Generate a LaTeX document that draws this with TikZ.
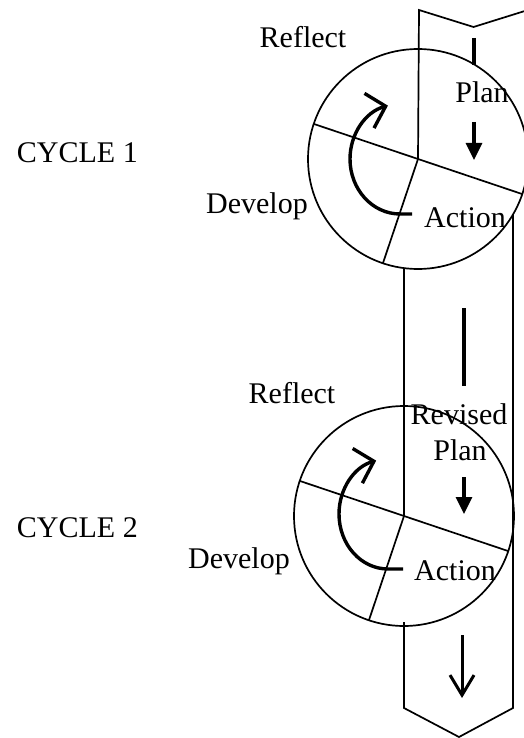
\documentclass[tikz,border=0pt]{standalone}
\usepackage{fontspec}
\setmainfont{Liberation Serif}
\usetikzlibrary{arrows.meta}
\begin{document}
\begin{tikzpicture}[x=1pt,y=-1pt,
  outline/.style={line width=1.7pt, line join=miter},
  flowbar/.style={line width=3.4pt},
  flowarrow/.style={line width=3.2pt, -{Triangle[length=17pt,width=16pt]}},
  cyclearrow/.style={line width=3.4pt, -{Straight Barb[length=17pt,width=36pt]}},
  exitarrow/.style={line width=3pt, -{Straight Barb[length=20pt,width=24pt]}},
  lbl/.style={inner sep=0pt, anchor=base, font=\fontsize{30}{36}\selectfont}]
\useasboundingbox (0,0) rectangle (524,738);
\clip (0,0) rectangle (524,738);

% wheel centres
\coordinate (c1) at (418,159);
\coordinate (c2) at (404,516);

% upper banner with notched top
\draw[outline] (c1) -- (419,10) -- (473.5,27) -- (528,10) -- (528,210);
% lower column ending in a chevron
\draw[outline] (404,268) -- (c2);
\draw[outline] (404,622) -- (404,708) -- (459,737) -- (513,708) -- (513,214);

% cycle 1 wheel
\draw[outline] (c1) circle[radius=110];
\draw[outline] (c1) ++(198.6:110) -- ++(18.6:220);
\draw[outline] (c1) -- ++(108.6:110);
% cycle 2 wheel
\draw[outline] (c2) circle[radius=110];
\draw[outline] (c2) ++(198.6:110) -- ++(18.6:220);
\draw[outline] (c2) -- ++(108.6:110);

% turning arrows inside the wheels
\draw[cyclearrow] (412,214) -- (400,214) arc[start angle=90, end angle=256, x radius=50, y radius=55];
\draw[cyclearrow] (403,569) -- (388,569) arc[start angle=90, end angle=256, x radius=49, y radius=55];

% flow marks down the column
\coordinate (b1a) at (474,38);  \coordinate (b1b) at (474,65);
\coordinate (a1a) at (474,122); \coordinate (a1b) at (474,160);
\coordinate (b2a) at (464,308); \coordinate (b2b) at (464,386);
\coordinate (a2a) at (464,477); \coordinate (a2b) at (464,514);
\coordinate (a3a) at (462,635); \coordinate (a3b) at (462,698);
\draw[flowbar] (b1a) -- (b1b);
\draw[flowarrow] (a1a) -- (a1b);
\draw[flowbar] (b2a) -- (b2b);
\draw[flowarrow] (a2a) -- (a2b);
\draw[exitarrow] (a3a) -- (a3b);

% labels
\node[lbl, anchor=base east] (cyc1) at (138,163) {CYCLE 1};
\node[lbl] (ref1) at (303,48) {Reflect};
\node[lbl] (dev1) at (257,213) {Develop};
\node[lbl] (plan1) at (482,103) {Plan};
\node[lbl] (act1) at (465,227) {Action};

\node[lbl, anchor=base east] (cyc2) at (138,537) {CYCLE 2};
\node[lbl] (ref2) at (292,403) {Reflect};
\node[lbl] (dev2) at (239,568) {Develop};
\node[lbl] (rev2) at (459,424) {Revised};
\node[lbl] (plan2) at (460,460) {Plan};
\node[lbl] (act2) at (455,580) {Action};
\end{tikzpicture}
\end{document}
